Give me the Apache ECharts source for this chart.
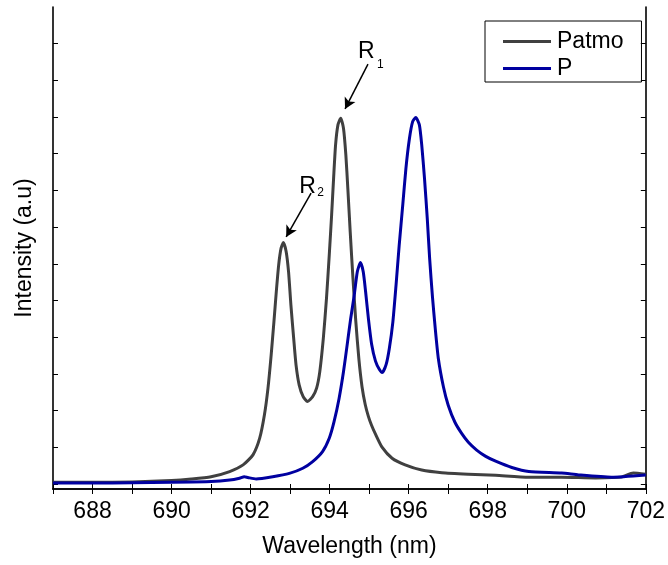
<!DOCTYPE html>
<html>
<head>
<meta charset="utf-8">
<script src="https://cdn.jsdelivr.net/npm/echarts@6/dist/echarts.min.js"></script>
<style>
html,body{margin:0;padding:0;background:#fff;}
#chart{width:668px;height:565px;}
</style>
</head>
<body>
<div id="chart"></div>
<script>
// ---- data ----
const patmoX = [687.0, 688.0, 689.0, 690.0, 690.5, 691.0, 691.47, 691.81, 692.06, 692.23, 692.35, 692.44, 692.52, 692.59, 692.65, 692.71, 692.77, 692.83, 692.90, 692.96, 693.02, 693.09, 693.15, 693.23, 693.33, 693.44, 693.57, 693.67, 693.75, 693.84, 693.92, 693.99, 694.05, 694.10, 694.15, 694.21, 694.28, 694.35, 694.41, 694.46, 694.52, 694.59, 694.66, 694.74, 694.82, 694.90, 694.98, 695.06, 695.16, 695.33, 695.58, 695.91, 696.33, 696.84, 697.51, 698.20, 699.04, 699.87, 700.73, 701.38, 701.68, 702.0];
const patmoY = [0.018, 0.018, 0.019, 0.023, 0.027, 0.033, 0.047, 0.065, 0.092, 0.137, 0.200, 0.272, 0.361, 0.451, 0.532, 0.604, 0.649, 0.665, 0.640, 0.586, 0.496, 0.406, 0.334, 0.280, 0.249, 0.236, 0.249, 0.272, 0.316, 0.406, 0.514, 0.631, 0.739, 0.838, 0.928, 0.982, 1.000, 0.973, 0.901, 0.811, 0.694, 0.568, 0.455, 0.350, 0.275, 0.228, 0.196, 0.172, 0.148, 0.112, 0.083, 0.065, 0.051, 0.044, 0.040, 0.037, 0.032, 0.032, 0.030, 0.032, 0.043, 0.040];
const pX = [687.0, 688.0, 689.0, 690.0, 691.0, 691.47, 691.72, 691.84, 691.93, 692.14, 692.56, 692.98, 693.32, 693.57, 693.82, 693.99, 694.11, 694.24, 694.35, 694.45, 694.53, 694.62, 694.70, 694.78, 694.85, 694.91, 694.98, 695.06, 695.16, 695.26, 695.33, 695.43, 695.51, 695.60, 695.68, 695.76, 695.85, 695.93, 696.02, 696.10, 696.18, 696.27, 696.33, 696.40, 696.47, 696.53, 696.60, 696.67, 696.75, 696.88, 697.00, 697.17, 697.34, 697.51, 697.72, 697.95, 698.20, 698.61, 699.04, 699.87, 700.30, 701.13, 702.0];
const pY = [0.016, 0.016, 0.017, 0.018, 0.020, 0.024, 0.029, 0.033, 0.031, 0.027, 0.033, 0.042, 0.056, 0.074, 0.101, 0.137, 0.181, 0.245, 0.316, 0.394, 0.458, 0.521, 0.586, 0.611, 0.586, 0.532, 0.460, 0.392, 0.345, 0.322, 0.314, 0.336, 0.379, 0.451, 0.550, 0.658, 0.766, 0.865, 0.946, 0.991, 1.002, 0.982, 0.928, 0.838, 0.730, 0.622, 0.520, 0.435, 0.352, 0.275, 0.226, 0.180, 0.150, 0.126, 0.105, 0.088, 0.075, 0.058, 0.047, 0.043, 0.038, 0.032, 0.038];
const seriesNames = ['Patmo', 'P'];
const xTickLabels = [688, 690, 692, 694, 696, 698, 700, 702];
const xTickValues = [687, 688, 689, 690, 691, 692, 693, 694, 695, 696, 697, 698, 699, 700, 701, 702];
const yTickValues = [0.0135, 0.1125, 0.2115, 0.3104, 0.4094, 0.5084, 0.6074, 0.7063, 0.8053, 0.9043, 1.0033, 1.1022, 1.2012];
// annotations: label text, subscript, label position, subscript position, arrow start, arrow end (data coords)
const annoR1 = {text: 'R', sub: '1', at: [694.93, 1.180], subAt: [695.28, 1.1435], from: [694.97, 1.146], to: [694.39, 1.025]};
const annoR2 = {text: 'R', sub: '2', at: [693.44, 0.816], subAt: [693.77, 0.800], from: [693.53, 0.798], to: [692.90, 0.680]};

const zip = (xs, ys) => xs.map((x, i) => [x, ys[i]]);
const FONT = '"Liberation Sans", Arial, sans-serif';
const chart = echarts.init(document.getElementById('chart'), null, {renderer: 'canvas'});

const baseAxisLine = {show: true, lineStyle: {color: '#000', width: 1.6}};
const tickStyle = {show: true, inside: true, length: 5, lineStyle: {color: '#000', width: 1}};

function annoMarks(a) {
  return {
    markPoint: {
      symbol: 'circle', symbolSize: 1, itemStyle: {color: 'rgba(0,0,0,0)'},
      silent: true,
      data: [
        {coord: a.at, label: {show: true, position: 'inside', formatter: a.text, fontSize: 23, color: '#000', fontFamily: FONT}},
        {coord: a.subAt, label: {show: true, position: 'inside', formatter: a.sub, fontSize: 12, color: '#000', fontFamily: FONT}}
      ]
    },
    markLine: {
      silent: true,
      symbol: ['none', 'arrow'], symbolSize: [9, 11],
      label: {show: false},
      lineStyle: {color: '#000', width: 1.5, type: 'solid'},
      data: [[{coord: a.from}, {coord: a.to}]]
    }
  };
}

chart.setOption({
  animation: false,
  backgroundColor: '#fff',
  grid: {left: 53, top: 7, right: 20, bottom: 76, containLabel: false},
  legend: {
    show: true,
    left: 485, top: 21,
    orient: 'vertical',
    data: seriesNames,
    icon: 'rect',
    itemWidth: 48, itemHeight: 3,
    itemGap: 4,
    padding: [9, 18, 2, 18],
    borderColor: '#000', borderWidth: 1,
    textStyle: {fontSize: 23, color: '#000', fontFamily: FONT, padding: [0, 0, 0, 1]}
  },
  xAxis: [{
    type: 'value', min: 687, max: 702, position: 'bottom',
    name: 'Wavelength (nm)', nameLocation: 'middle', nameGap: 46,
    nameTextStyle: {fontSize: 23, color: '#000', fontFamily: FONT},
    axisLine: baseAxisLine,
    axisTick: Object.assign({}, tickStyle, {customValues: xTickValues}),
    axisLabel: {customValues: xTickLabels, fontSize: 23, color: '#000', fontFamily: FONT, margin: 11, showMinLabel: true, showMaxLabel: true},
    splitLine: {show: false}
  }, {
    type: 'value', min: 687, max: 702, position: 'top',
    axisLine: baseAxisLine,
    axisTick: Object.assign({}, tickStyle, {customValues: xTickValues}),
    axisLabel: {show: false},
    splitLine: {show: false}
  }],
  yAxis: [{
    type: 'value', min: 0, max: 1.3, position: 'left',
    name: 'Intensity (a.u)', nameLocation: 'middle', nameGap: 17, nameRotate: 90,
    nameTextStyle: {fontSize: 23, color: '#000', fontFamily: FONT},
    axisLine: baseAxisLine,
    axisTick: Object.assign({}, tickStyle, {customValues: yTickValues}),
    axisLabel: {show: false},
    splitLine: {show: false}
  }, {
    type: 'value', min: 0, max: 1.3, position: 'right',
    axisLine: baseAxisLine,
    axisTick: Object.assign({}, tickStyle, {customValues: yTickValues}),
    axisLabel: {show: false},
    splitLine: {show: false}
  }],
  series: [
    Object.assign({
      name: seriesNames[0], type: 'line', xAxisIndex: 0, yAxisIndex: 0,
      data: zip(patmoX, patmoY),
      showSymbol: false, symbol: 'none',
      smooth: 0.2,
      lineStyle: {color: '#404040', width: 3, join: 'round'},
      itemStyle: {color: '#404040'}
    }, annoMarks(annoR1)),
    {
      name: seriesNames[1], type: 'line', xAxisIndex: 0, yAxisIndex: 0,
      data: zip(pX, pY),
      showSymbol: false, symbol: 'none',
      smooth: 0.2,
      lineStyle: {color: '#0000a0', width: 3, join: 'round'},
      itemStyle: {color: '#0000a0'}
    },
    Object.assign({
      name: 'annoR2', type: 'line', xAxisIndex: 0, yAxisIndex: 0,
      data: [], showSymbol: false, symbol: 'none'
    }, annoMarks(annoR2))
  ]
});
</script>
</body>
</html>
